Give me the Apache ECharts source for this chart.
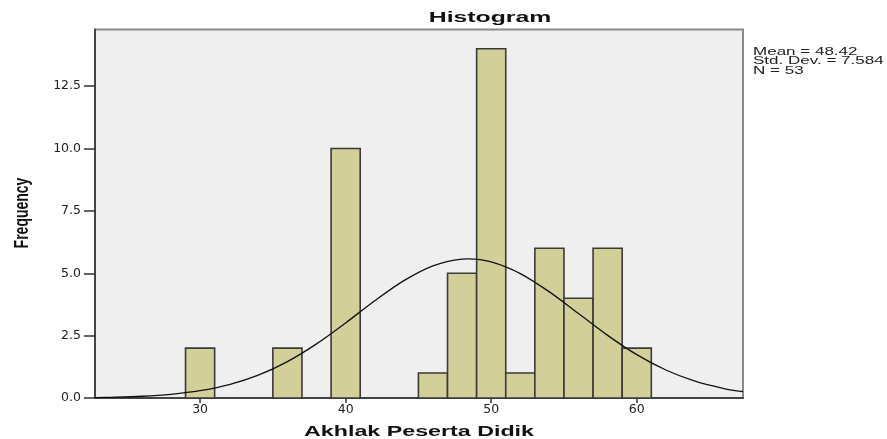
<!DOCTYPE html>
<html>
<head>
<meta charset="utf-8">
<script src="https://cdn.jsdelivr.net/npm/echarts@6/dist/echarts.min.js"></script>
<style>
html,body{margin:0;padding:0;background:#fff;}
#chart{width:887px;height:439px;}
</style>
</head>
<body>
<div id="chart"></div>
<script>
// Histogram bins (lower edge, width 2) and frequencies
const binStart = [29, 35, 39, 45, 47, 49, 51, 53, 55, 57, 59];
const binWidth = 2;
const frequency = [2, 2, 10, 1, 5, 14, 1, 6, 4, 6, 2];

// Normal curve (Mean 48.42, SD 7.584, N 53)
const curveX = [22.78, 24, 26, 28, 30, 32, 34, 36, 38, 40, 42, 44, 46, 48, 48.42, 50, 52, 54, 56, 58, 60, 62, 64, 66, 67.3];
const curveY = [0.018, 0.031, 0.071, 0.149, 0.292, 0.535, 0.915, 1.459, 2.170, 3.010, 3.897, 4.705, 5.300, 5.568, 5.576, 5.456, 4.988, 4.253, 3.384, 2.511, 1.738, 1.123, 0.676, 0.380, 0.252];

const xTicks = [30, 40, 50, 60];
const yTicks = [0, 2.5, 5, 7.5, 10, 12.5];
const statLines = ['Mean = 48.42', 'Std. Dev. = 7.584', 'N = 53'];
const titleText = 'Histogram';
const xName = 'Akhlak Peserta Didik';
const yName = 'Frequency';

const FONT = '"Liberation Sans", Arial, sans-serif';

const barData = binStart.map((s, i) => [s, s + binWidth, frequency[i]]);
const curveData = curveX.map((x, i) => [x, curveY[i]]);

const chart = echarts.init(document.getElementById('chart'), null, {renderer: 'canvas'});

const option = {
  animation: false,
  backgroundColor: '#ffffff',
  grid: {
    left: 95, right: 144, top: 29.5, bottom: 41,
    show: true, backgroundColor: '#efefef', borderColor: '#8a8a8a', borderWidth: 2
  },
  xAxis: {
    type: 'value', min: 22.78, max: 67.3,
    splitLine: {show: false},
    axisLine: {show: true, onZero: false, lineStyle: {color: '#444', width: 2}},
    axisTick: {show: true, length: 5, customValues: xTicks, lineStyle: {color: '#333', width: 1.5}},
    axisLabel: {customValues: xTicks, color: '#222', fontFamily: '"DejaVu Sans", sans-serif', fontSize: 12.5, margin: 5}
  },
  yAxis: {
    type: 'value', min: 0, max: 14.77,
    splitLine: {show: false},
    axisLine: {show: true, lineStyle: {color: '#444', width: 2}},
    axisTick: {show: true, length: 11, customValues: yTicks, lineStyle: {color: '#333', width: 1.5}},
    axisLabel: {customValues: yTicks, color: '#222', fontFamily: '"DejaVu Sans", sans-serif', fontSize: 12.5, margin: 14,
      formatter: v => v.toFixed(1)}
  },
  series: [
    {
      type: 'custom',
      data: barData,
      encode: {x: [0, 1], y: 2},
      renderItem: function (params, api) {
        const p0 = api.coord([api.value(0), 0]);
        const p1 = api.coord([api.value(1), api.value(2)]);
        return {
          type: 'rect',
          shape: {x: p0[0], y: p1[1], width: p1[0] - p0[0], height: p0[1] - p1[1]},
          style: {fill: '#d3cf98', stroke: '#3a3a3a', lineWidth: 1.6}
        };
      },
      z: 2
    },
    {
      type: 'line',
      data: curveData,
      smooth: 0.3,
      showSymbol: false,
      lineStyle: {color: '#111', width: 1.3},
      z: 3
    }
  ],
  graphic: [
    {type: 'text', x: 490, y: 18, scaleX: 1.65,
      style: {text: titleText, font: 'bold 15px ' + FONT, fill: '#111', textAlign: 'center', textVerticalAlign: 'middle'}},
    {type: 'text', x: 419, y: 432, scaleX: 1.66,
      style: {text: xName, font: 'bold 14px ' + FONT, fill: '#111', textAlign: 'center', textVerticalAlign: 'middle'}},
    {type: 'text', x: 22, y: 213, rotation: Math.PI / 2, scaleY: 1.5,
      style: {text: yName, font: 'bold 14px ' + FONT, fill: '#111', textAlign: 'center', textVerticalAlign: 'middle'}},
  ].concat(statLines.map((t, i) => ({
    type: 'text', x: 753, y: 52 + i * 9.5, scaleX: 1.62,
    style: {text: t, font: '10.5px ' + FONT, fill: '#222', textAlign: 'left', textVerticalAlign: 'middle'}
  })))
};

chart.setOption(option);
</script>
</body>
</html>
